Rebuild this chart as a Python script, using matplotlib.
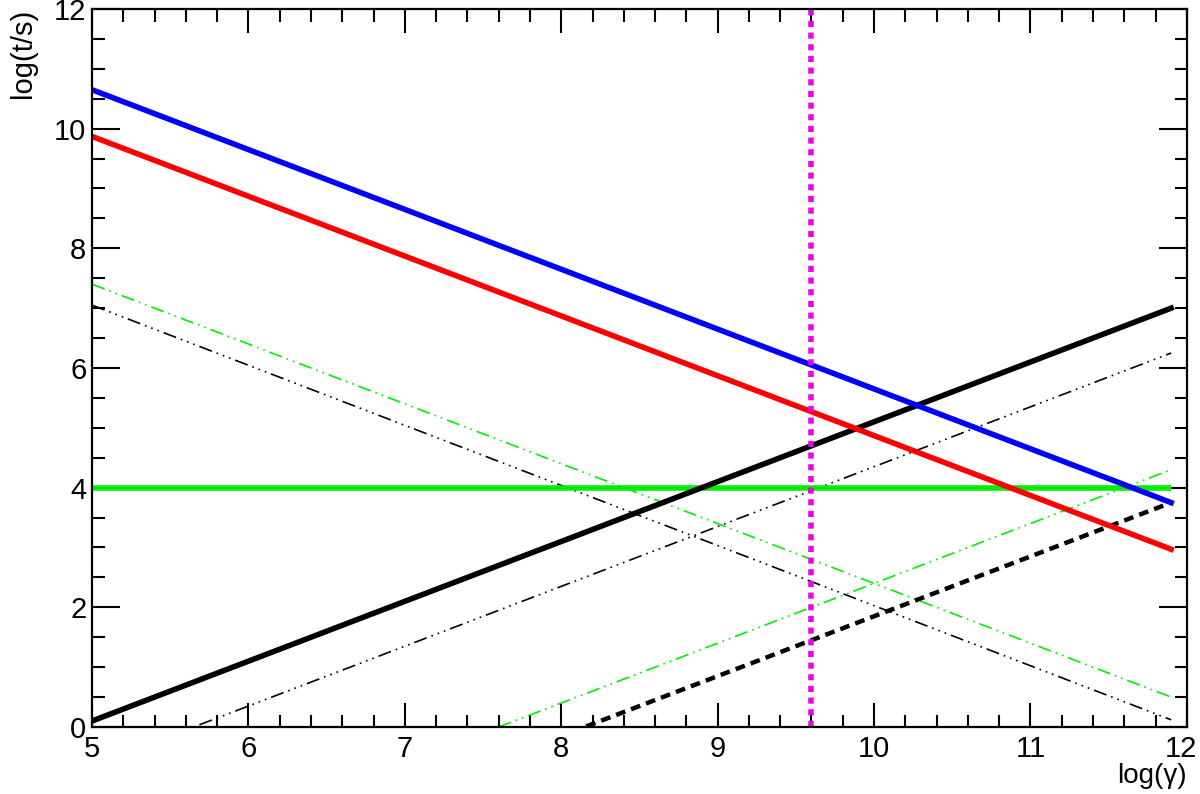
import matplotlib.pyplot as plt
from matplotlib.ticker import MultipleLocator, FuncFormatter

plt.rcParams['font.family'] = ['Liberation Sans', 'DejaVu Sans']

# endpoints of each curve in log(gamma)
log_gamma = [5.0, 11.9]

blue = [10.65, 3.75]
red = [9.87, 2.97]
black = [0.10, 7.00]
green = [4.0, 4.0]
green_dd_down = [7.40, 0.50]
black_ddd_down = [7.05, 0.12]
black_ddd_up = [-0.65, 6.25]
green_dd_up = [-2.60, 4.30]
black_dash_up = [-3.15, 3.75]

vline_x = 9.6
vline_y = [0, 12]

fig = plt.figure(figsize=(12, 7.94), dpi=100)
ax = fig.add_axes([0.0767, 0.0844, 0.9123, 0.9043])

ax.plot(log_gamma, black_ddd_down, color='black', lw=1.2, dashes=(8, 3, 1, 3, 1, 3, 1, 3))
ax.plot(log_gamma, black_ddd_up, color='black', lw=1.2, dashes=(8, 3, 1, 3, 1, 3, 1, 3))
ax.plot(log_gamma, green_dd_down, color='#00ee00', lw=1.2, dashes=(8, 3, 1, 3, 1, 3))
ax.plot(log_gamma, green_dd_up, color='#00ee00', lw=1.2, dashes=(8, 3, 1, 3, 1, 3))
ax.plot(log_gamma, black_dash_up, color='black', lw=3.2, dashes=(2.2, 1.4))
ax.plot(log_gamma, green, color='#00ee00', lw=4, solid_capstyle='butt')
ax.plot(log_gamma, black, color='black', lw=4)
ax.plot(log_gamma, red, color='#ff0000', lw=4)
ax.plot(log_gamma, blue, color='#0000ff', lw=4)
ax.plot([vline_x, vline_x], vline_y, color='#ee00ee', lw=4, dashes=(1.1, 1.0))

ax.set_xlim(5, 12)
ax.set_ylim(0, 12)
ax.xaxis.set_major_locator(MultipleLocator(1))
ax.xaxis.set_minor_locator(MultipleLocator(0.2))
ax.yaxis.set_major_locator(MultipleLocator(2))
ax.yaxis.set_minor_locator(MultipleLocator(0.5))
# last x label is drawn separately so it stays inside the figure
ax.xaxis.set_major_formatter(FuncFormatter(lambda v, p: '' if v >= 12 else f'{v:g}'))
ax.tick_params(which='both', direction='in', top=True, right=True, width=1.5, labelsize=21)
ax.tick_params(axis='x', which='major', length=17, pad=6)
ax.tick_params(axis='x', which='minor', length=9)
ax.tick_params(axis='y', which='major', length=20, pad=4)
ax.tick_params(axis='y', which='minor', length=9)
for s in ax.spines.values():
    s.set_linewidth(1.6)

ax.annotate('12', xy=(12, 0), xytext=(-4, -6), textcoords='offset points',
            ha='center', va='top', fontsize=21, annotation_clip=False)

fig.text(0.989, 0.006, 'log(γ)', fontsize=20, ha='right', va='bottom')
ax.set_ylabel('log(t/s)', fontsize=21, loc='top', labelpad=12)

fig.savefig('out.png', dpi=100)
